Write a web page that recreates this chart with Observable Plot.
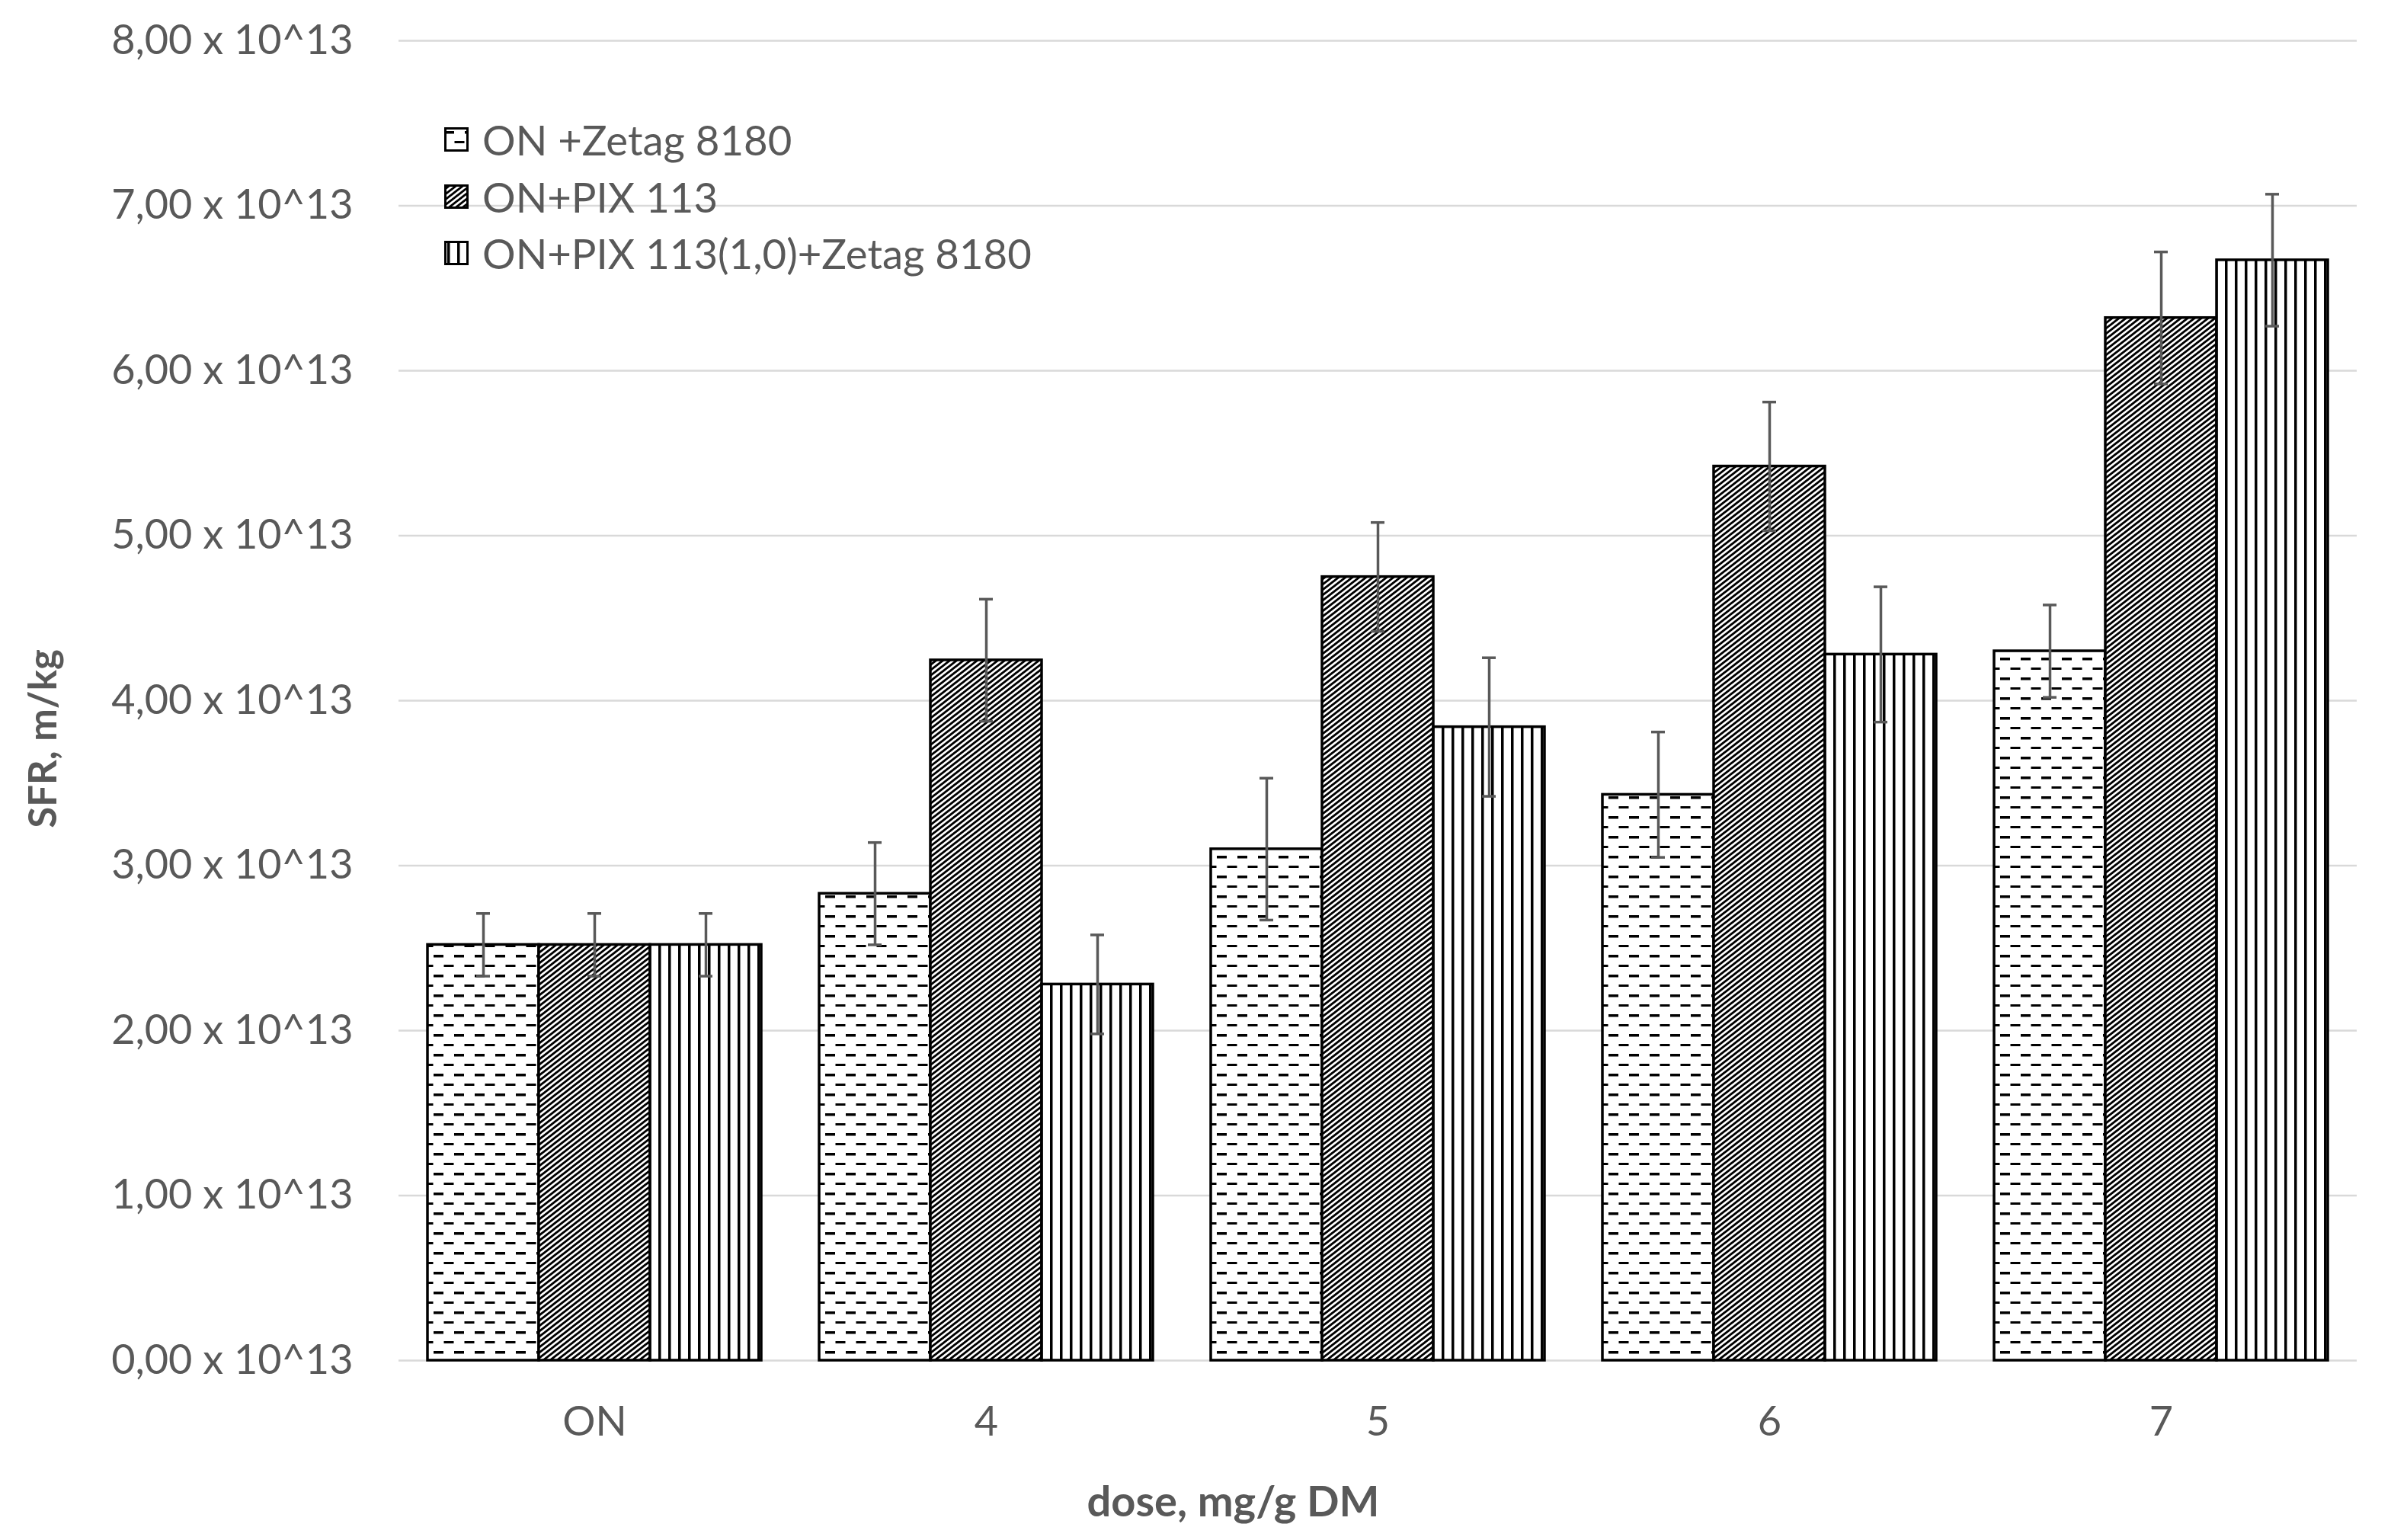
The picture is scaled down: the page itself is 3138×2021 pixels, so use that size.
<!DOCTYPE html>
<html><head><meta charset="utf-8">
<script src="https://cdn.jsdelivr.net/npm/d3@7"></script>
<script src="https://cdn.jsdelivr.net/npm/@observablehq/plot@0.6"></script>
<style>
html,body{margin:0;padding:0;background:#fff;}
#wrap{position:relative;width:3138px;height:2021px;overflow:hidden;}
#legend{position:absolute;left:583px;top:146px;font-family:Lato,sans-serif;font-size:54.5px;color:#595959;}
.item{display:flex;align-items:center;height:74.5px;white-space:nowrap;}
.item svg{margin-right:18px;display:block;}
</style></head><body><div id="wrap"><div id="chart"></div><div id="legend"></div></div>
<script>
const doses = ["ON", "4", "5", "6", "7"];
const series = ["ON +Zetag 8180", "ON+PIX 113", "ON+PIX 113(1,0)+Zetag 8180"];
// SFR values in units of 10^13 m/kg
const zetag = [2.52, 2.83, 3.10, 3.43, 4.30];
const pix = [2.52, 4.245, 4.75, 5.42, 6.32];
const combo = [2.52, 2.28, 3.84, 4.28, 6.67];
const zetagErr = [0.19, 0.31, 0.43, 0.38, 0.28];
const pixErr = [0.19, 0.37, 0.33, 0.39, 0.40];
const comboErr = [0.19, 0.30, 0.42, 0.41, 0.40];
const yTicks = [0, 1, 2, 3, 4, 5, 6, 7, 8];
const patternIds = ["pDash", "pDiag", "pVert"];

const values = [zetag, pix, combo];
const errs = [zetagErr, pixErr, comboErr];
const data = [];
doses.forEach((d, i) => series.forEach((s, j) => data.push({dose: d, series: s, value: values[j][i], err: errs[j][i]})));

const fmt = d => d.toFixed(2).replace(".", ",") + " x 10^13";
const lo = d => d.value - d.err;
const hi = d => d.value + d.err;
const errColor = "#595959";

const chart = Plot.plot({
  width: 3138, height: 2021,
  marginTop: 53, marginBottom: 236, marginLeft: 521, marginRight: 44,
  style: {fontFamily: "Lato, sans-serif", fontSize: "54px", color: "#595959", background: "#fff", overflow: "visible"},
  fx: {domain: doses, padding: 0},
  x: {domain: series, paddingInner: 0, paddingOuter: 0.26, axis: null},
  y: {domain: [0, 8]},
  color: {type: "ordinal", domain: series, range: patternIds.map(id => `url(#${id})`)},
  marks: [
    Plot.gridY(yTicks, {stroke: "#d9d9d9", strokeOpacity: 1, strokeWidth: 2.5}),
    Plot.barY(data, {fx: "dose", x: "series", y: "value", fill: "series", stroke: "#000", strokeWidth: 3.5}),
    Plot.ruleX(data, {fx: "dose", x: "series", y1: lo, y2: hi, stroke: errColor, strokeWidth: 3.5}),
    Plot.tickY(data, {fx: "dose", x: "series", y: lo, stroke: errColor, strokeWidth: 3.5, insetLeft: 64, insetRight: 64}),
    Plot.tickY(data, {fx: "dose", x: "series", y: hi, stroke: errColor, strokeWidth: 3.5, insetLeft: 64, insetRight: 64}),
    Plot.axisY(yTicks, {tickSize: 0, tickPadding: 60, tickFormat: fmt, label: "SFR, m/kg", labelAnchor: "center", labelArrow: "none", labelOffset: 486}),
    Plot.axisFx({anchor: "bottom", tickSize: 0, tickPadding: 60, label: "dose, mg/g DM", labelAnchor: "center", labelArrow: "none", labelOffset: 204})
  ]
});
document.getElementById("chart").appendChild(chart);

// hatch patterns
const svg = d3.select(chart);
const defs = svg.insert("defs", ":first-child");
const p1 = defs.append("pattern").attr("id", "pDash").attr("patternUnits", "userSpaceOnUse").attr("width", 27).attr("height", 26);
p1.append("rect").attr("width", 27).attr("height", 26).attr("fill", "#fff");
p1.append("rect").attr("x", 0).attr("y", 5).attr("width", 13).attr("height", 3.5).attr("fill", "#000");
p1.append("rect").attr("x", 13.5).attr("y", 18).attr("width", 13).attr("height", 3).attr("fill", "#000");
const p2 = defs.append("pattern").attr("id", "pDiag").attr("patternUnits", "userSpaceOnUse").attr("width", 9).attr("height", 7);
p2.append("rect").attr("width", 9).attr("height", 7).attr("fill", "#fff");
p2.append("path").attr("d", "M0,7L9,0M-4.5,3.5L4.5,-3.5M4.5,10.5L13.5,3.5").attr("stroke", "#000").attr("stroke-width", 2.9);
const p3 = defs.append("pattern").attr("id", "pVert").attr("patternUnits", "userSpaceOnUse").attr("width", 13).attr("height", 10);
p3.append("rect").attr("width", 13).attr("height", 10).attr("fill", "#fff");
p3.append("rect").attr("x", 4).attr("width", 3.5).attr("height", 10).attr("fill", "#000");

// axis titles: bold, shifted like the original (centred on the chart area)
function shift(sel, dx, dy) {
  sel.attr("transform", function () {
    const t = this.getAttribute("transform") || "";
    return `translate(${dx},${dy}) ${t}`;
  });
}
const yl = svg.select('g[aria-label="y-axis label"]').attr("font-weight", "bold").attr("font-size", 51);
shift(yl, 0, 50);
const xl = svg.select('g[aria-label="fx-axis label"]').attr("font-weight", "bold").attr("font-size", 56);
shift(xl, -190, 0);

// legend
const legend = d3.select("#legend");
series.forEach((s, j) => {
  const item = legend.append("div").attr("class", "item");
  const sw = item.append("svg").attr("width", 32).attr("height", 32);
  sw.append("rect").attr("x", 1.5).attr("y", 1.5).attr("width", 29).attr("height", 29)
    .attr("fill", `url(#${patternIds[j]})`).attr("stroke", "#000").attr("stroke-width", 3);
  item.append("span").text(s);
});
</script></body></html>
